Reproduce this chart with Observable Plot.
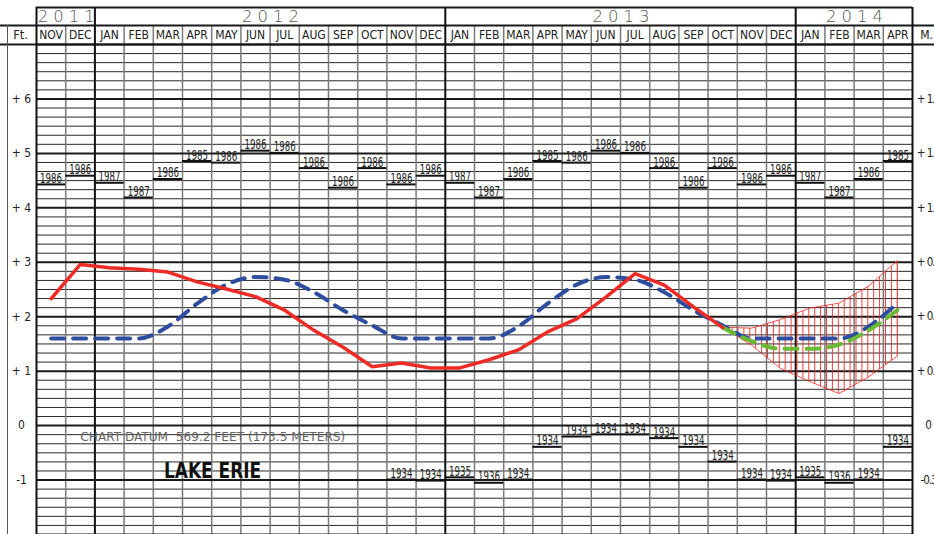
<!DOCTYPE html>
<html>
<head>
<meta charset="utf-8">
<script src="https://cdn.jsdelivr.net/npm/d3@7"></script>
<script src="https://cdn.jsdelivr.net/npm/@observablehq/plot@0.6"></script>
<style>
  html, body { margin: 0; padding: 0; background: #fff; overflow: hidden; }
</style>
</head>
<body>
<script>
// ---- data ----
const months = ["NOV","DEC","JAN","FEB","MAR","APR","MAY","JUN","JUL","AUG","SEP","OCT",
                "NOV","DEC","JAN","FEB","MAR","APR","MAY","JUN","JUL","AUG","SEP","OCT",
                "NOV","DEC","JAN","FEB","MAR","APR"];
const years = ["2011","2012","2013","2014"];
const yearMonthCount = [2, 12, 12, 4];

const recordHigh = [4.43,4.59,4.46,4.19,4.53,4.86,4.83,5.05,5.01,4.73,4.37,4.73,
                    4.43,4.59,4.46,4.19,4.53,4.86,4.83,5.05,5.01,4.73,4.37,4.73,
                    4.43,4.59,4.46,4.19,4.53,4.86];
const recordHighYear = ["1986","1986","1987","1987","1986","1985","1986","1986","1986","1986","1986","1986",
                        "1986","1986","1987","1987","1986","1985","1986","1986","1986","1986","1986","1986",
                        "1986","1986","1987","1987","1986","1985"];
const recordLow = [null,null,null,null,null,null,null,null,null,null,null,null,
                   -0.99,-1.01,-0.95,-1.05,-0.99,-0.39,-0.20,-0.16,-0.16,-0.23,-0.39,-0.66,
                   -0.99,-1.01,-0.95,-1.05,-0.99,-0.39];
const recordLowYear = [null,null,null,null,null,null,null,null,null,null,null,null,
                       "1934","1934","1935","1936","1934","1934","1934","1934","1934","1934","1934","1934",
                       "1934","1934","1935","1936","1934","1934"];

// recorded levels, Nov 2011 - Oct 2013 (ft above chart datum)
const recorded = [2.33,2.96,2.90,2.87,2.82,2.64,2.51,2.37,2.12,1.75,1.44,1.08,
                  1.15,1.06,1.06,1.21,1.39,1.72,1.96,2.36,2.79,2.58,2.18,1.80];
// long-term average, Nov 2011 - Apr 2014
const average = [1.60,1.60,1.60,1.60,1.82,2.24,2.59,2.73,2.68,2.45,2.12,1.84,
                 1.60,1.60,1.60,1.60,1.82,2.24,2.59,2.73,2.68,2.45,2.12,1.84,
                 1.60,1.60,1.60,1.60,1.82,2.26];
// forecast, Oct 2013 - Apr 2014
const forecastStart = 23;
const forecast     = [1.80,1.55,1.41,1.41,1.49,1.75,2.13];
const forecastHigh = [1.80,1.78,1.94,2.15,2.24,2.55,3.02];
const forecastLow  = [1.80,1.47,1.04,0.80,0.58,0.88,1.27];

const ftTicks = [6,5,4,3,2,1,0,-1];
const ftLabels = ["+ 6","+ 5","+ 4","+ 3","+ 2","+ 1","0","-1"];
const mLabels = ["+ 1.8","+ 1.5","+ 1.2","+ 0.9","+ 0.6","+ 0.3","0","-0.3"];
const datumText = "CHART DATUM  569.2 FEET (173.5 METERS)";
const lakeText = "LAKE ERIE";

// ---- tables ----
const highs = months.map((m, i) => ({i, v: recordHigh[i], yr: recordHighYear[i]}));
const lows = months.map((m, i) => ({i, v: recordLow[i], yr: recordLowYear[i]})).filter(d => d.v != null);
const rec = recorded.map((v, i) => ({x: i + 0.5, v}));
const avg = average.map((v, i) => ({x: i + 0.5, v}));
const fc = forecast.map((v, k) => ({x: forecastStart + k + 0.5, v, hi: forecastHigh[k], lo: forecastLow[k]}));
let acc = 0;
const yearTable = years.map((y, k) => { const s = acc; acc += yearMonthCount[k]; return {y, s, e: acc}; });
const yearBounds = [0, ...yearTable.map(d => d.e)];
const monthLines = d3.range(1, months.length).filter(i => !yearBounds.includes(i));
const minor = d3.range(-12, 43).filter(k => k % 6 !== 0).map(k => k / 6);
const feet = d3.range(-2, 8);
const ftMap = new Map(ftTicks.map((f, i) => [f, ftLabels[i]]));
const mMap = new Map(ftTicks.map((f, i) => [f, mLabels[i]]));

const RED = "#ee2a24", BLUE = "#2e4d9f", GREEN = "#6abb34";
const NARROW = "'Liberation Sans Narrow','DejaVu Sans Condensed',sans-serif";

// header geometry in scale units (one month = 1, one foot = 1)
const N = months.length;
const colW = (934 - 36 - 22) / N;
const leftEdge = -36 / colW, rightEdge = N + 22 / colW, leftBorder = (7 - 36) / colW;
const yMonthTop = 7 + 19 / 54.44, yYearTop = 7 + 37 / 54.44;

const chart = Plot.plot({
  width: 934,
  height: 534,
  marginTop: 44, marginRight: 22, marginBottom: 0, marginLeft: 36,
  style: {fontFamily: NARROW, fontSize: "12px", color: "#222", background: "#fff"},
  x: {domain: [0, N], axis: null},
  y: {domain: [-2, 7], axis: null},
  marks: [
    // grid
    Plot.ruleY(minor, {x1: 0, x2: N, stroke: "#2a2a2a", strokeWidth: 1}),
    Plot.ruleX(monthLines, {y1: -2, y2: yMonthTop, stroke: "#7a7a7a", strokeWidth: 1.5}),
    Plot.ruleY(feet, {x1: 0, x2: N, stroke: "#1a1a1a", strokeWidth: 2}),
    Plot.ruleY([7, yMonthTop], {x1: leftEdge, x2: rightEdge, stroke: "#1a1a1a", strokeWidth: 2}),
    Plot.ruleY([yYearTop], {x1: 0, x2: N, stroke: "#1a1a1a", strokeWidth: 2}),
    Plot.ruleX(yearBounds, {y1: -2, y2: yYearTop, stroke: "#111", strokeWidth: 2}),
    Plot.ruleX([leftBorder], {y1: -2, y2: yMonthTop, stroke: "#555", strokeWidth: 1}),
    // header text
    Plot.text(yearTable, {x: d => (d.s + d.e) / 2, y: (yMonthTop + yYearTop) / 2, text: "y",
      fontFamily: "'DejaVu Sans',sans-serif", fontWeight: 200, fontSize: 16.5, fill: "#555", dx: 3}),
    Plot.text(months, {x: (d, i) => i + 0.5, y: (7 + yMonthTop) / 2, text: d => d, fontSize: 12, fill: "#222"}),
    Plot.text(["Ft."], {frameAnchor: "top-left", dx: -16, dy: -9.5, lineAnchor: "middle", textAnchor: "middle", fontSize: 12.5}),
    Plot.text(["M."], {frameAnchor: "top-right", dx: 14, dy: -9.5, lineAnchor: "middle", textAnchor: "middle", fontSize: 12}),
    // axes
    Plot.axisY(ftTicks, {anchor: "left", tickSize: 0, tickPadding: 15, textAnchor: "middle", tickFormat: d => ftMap.get(d), fontSize: 12, label: null}),
    Plot.axisY(ftTicks, {anchor: "right", tickSize: 0, tickPadding: 16, textAnchor: "middle", tickFormat: d => mMap.get(d), fontSize: 11.5, label: null}),
    // record highs / lows
    Plot.ruleY(highs, {y: "v", x1: d => d.i, x2: d => d.i + 1, stroke: "#111", strokeWidth: 2}),
    Plot.text(highs, {x: d => d.i + 0.5, y: "v", text: "yr", lineAnchor: "bottom", dy: -1.5, fontSize: 13.5, fill: "#222"}),
    Plot.ruleY(lows, {y: "v", x1: d => d.i, x2: d => d.i + 1, stroke: "#111", strokeWidth: 2}),
    Plot.text(lows, {x: d => d.i + 0.5, y: "v", text: "yr", lineAnchor: "bottom", dy: -1.5, fontSize: 13.5, fill: "#222"}),
    // annotations
    Plot.text([datumText], {x: 1.5, y: -0.2, textAnchor: "start", fontSize: 13, fill: "#666"}),
    Plot.text([lakeText], {x: 6.03, y: -0.83, fontWeight: "bold", fontSize: 21, fill: "#111"}),
    // forecast range
    Plot.areaY(fc, {x: "x", y1: "lo", y2: "hi", fill: "url(#hatch)", stroke: RED, strokeWidth: 0.8}),
    // average
    Plot.line(avg, {x: "x", y: "v", stroke: BLUE, strokeWidth: 4, strokeDasharray: "13,9", curve: "monotone-x"}),
    // forecast most probable
    Plot.line(fc, {x: "x", y: "v", stroke: GREEN, strokeWidth: 4, strokeDasharray: "13,9", curve: "monotone-x"}),
    // recorded
    Plot.line(rec, {x: "x", y: "v", stroke: RED, strokeWidth: 3.5})
  ]
});

// hatch pattern for the forecast range
const defs = d3.select(chart).insert("defs", ":first-child");
const pat = defs.append("pattern").attr("id", "hatch").attr("patternUnits", "userSpaceOnUse")
  .attr("width", 5.9).attr("height", 6);
pat.append("line").attr("x1", 0.5).attr("x2", 0.5).attr("y1", 0).attr("y2", 6)
  .attr("stroke", RED).attr("stroke-width", 0.9);

// text fitting (narrow CAD-style lettering)
const yearSet = new Set(years), mSet = new Set(mLabels.filter(d => d !== "0"));
d3.select(chart).selectAll("text").each(function () {
  const t = this.textContent;
  if (/^19\d\d$/.test(t)) {
    this.setAttribute("textLength", 22);
    this.setAttribute("lengthAdjust", "spacingAndGlyphs");
  } else if (yearSet.has(t)) {
    this.style.letterSpacing = "5px";
  } else if (t === datumText) {
    this.setAttribute("textLength", 265);
    this.setAttribute("lengthAdjust", "spacingAndGlyphs");
  } else if (t === lakeText) {
    this.setAttribute("textLength", 97);
    this.setAttribute("lengthAdjust", "spacingAndGlyphs");
  } else if (mSet.has(t)) {
    this.style.letterSpacing = "-1px";
  }
});

document.body.append(chart);
</script>
</body>
</html>
